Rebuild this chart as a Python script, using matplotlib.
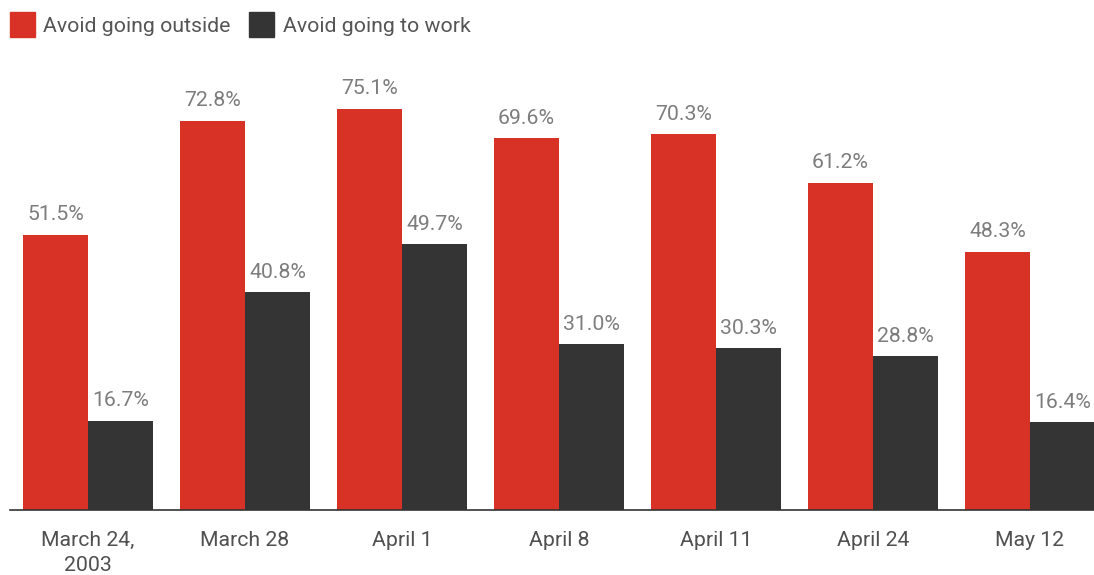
import matplotlib
matplotlib.use("Agg")
import matplotlib.pyplot as plt
from matplotlib.patches import Rectangle
import numpy as np

categories = ["March 24,\n2003", "March 28", "April 1", "April 8", "April 11", "April 24", "May 12"]
outside = [51.5, 72.8, 75.1, 69.6, 70.3, 61.2, 48.3]
work = [16.7, 40.8, 49.7, 31.0, 30.3, 28.8, 16.4]
series_names = ["Avoid going outside", "Avoid going to work"]

RED = "#d83227"
DARK = "#343434"
W, H = 1094, 575
plt.rcParams['font.family'] = ['Roboto', 'DejaVu Sans']

fig = plt.figure(figsize=(W / 100, H / 100), dpi=100)
left_px, right_px = 10, 1094
base_px = 510
ymax = 80
px_per = 5.345
top_px = base_px - ymax * px_per
ax = fig.add_axes([left_px / W, (H - base_px) / H, (right_px - left_px) / W, (base_px - top_px) / H])

x = np.arange(len(categories))
bw = 65 / 157
FS = 15.3
ax.bar(x - bw / 2, outside, width=bw, color=RED)
ax.bar(x + bw / 2, work, width=bw, color=DARK)
for xi, v in zip(x, outside):
    ax.annotate(f"{v:.1f}%", (xi - bw / 2, v), xytext=(0, 7.5), textcoords="offset points",
                ha="center", va="bottom", fontsize=FS, color="#7d7d7d")
for xi, v in zip(x, work):
    ax.annotate(f"{v:.1f}%", (xi + bw / 2, v), xytext=(0, 7.5), textcoords="offset points",
                ha="center", va="bottom", fontsize=FS, color="#7d7d7d")

ax.set_xlim(-78 / 157, (right_px - 88) / 157)
ax.set_ylim(0, ymax)
ax.set_xticks(x)
ax.set_xticklabels(categories, fontsize=FS, color="#505050", linespacing=1.4)
ax.tick_params(axis="x", length=0, pad=15)
ax.set_yticks([])
for s in ["top", "right", "left"]:
    ax.spines[s].set_visible(False)
ax.spines["bottom"].set_color("#333333")
ax.spines["bottom"].set_linewidth(1.2)

# legend
for (sx, col, txt, tx) in [(10, RED, series_names[0], 43), (249, DARK, series_names[1], 283)]:
    fig.patches.append(Rectangle((sx / W, (H - 37) / H), 25 / W, 25 / H, transform=fig.transFigure,
                                 color=col, figure=fig))
    fig.text(tx / W, (H - 32) / H, txt, fontsize=FS, color="#555555", va="baseline", ha="left")

fig.savefig("out.png", dpi=100)
